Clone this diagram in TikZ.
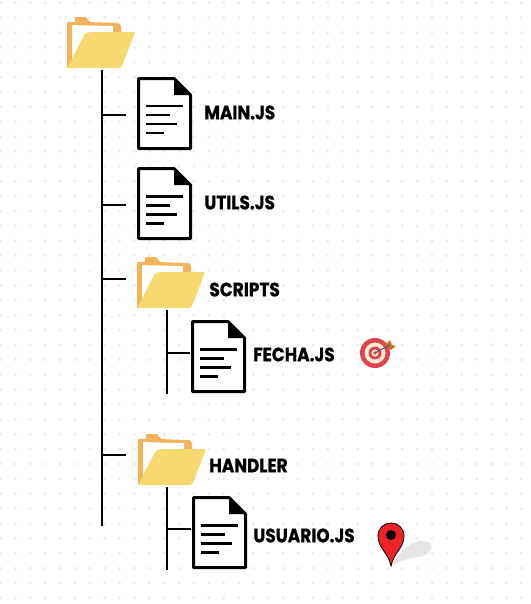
\documentclass[tikz,border=0pt]{standalone}
\usepackage{fontspec}
\setmainfont{Poppins}[BoldFeatures={FakeStretch=0.87,FakeBold=0.7}]
\definecolor{backfold}{HTML}{F2B35A}
\definecolor{frontfold}{HTML}{F6D96F}
\definecolor{griddot}{HTML}{E9EAF0}
\definecolor{targetred}{HTML}{E2414F}
\definecolor{targetcream}{HTML}{F3EFD2}
\definecolor{arrowtail}{HTML}{C8702A}
\definecolor{arrowshaft}{HTML}{4A5F73}
\definecolor{pinred}{HTML}{EE2229}
\tikzset{
  doc/.pic = {
    \draw[line width=3pt, line join=round, fill=white] (1.5,1.5) -- (37,1.5) -- (53.5,18) -- (53.5,71.5) -- (1.5,71.5) -- cycle;
    \fill[black] (37,1) -- (54,18) -- (37,18) -- cycle;
    \draw[line width=2.8pt] (9,29) -- (46,29);
    \draw[line width=2.8pt] (9,38) -- (33,38);
    \draw[line width=2.8pt] (9,47) -- (40,47);
    \draw[line width=2.8pt] (9,56) -- (27,56);
  },
  folder/.pic = {
    \fill[backfold] (0,51) -- (0,7) [rounded corners=1pt] -- (0,5) -- (8,5) -- (8,0) -- (19,0) -- (23,5) -- (52,6) -- (54,9) -- (54,20) -- cycle;
    \fill[white] (5,8) -- (46,9) -- (46,16) -- (5,44) -- cycle;
    \fill[frontfold, rounded corners=2pt] (0,51) -- (18,16) -- (23,15) -- (68,15) -- (54,51) -- cycle;
  }
}
\begin{document}
\begin{tikzpicture}[x=1pt, y=-1pt, line width=1.8pt,
  docnode/.style = {minimum width=55pt, minimum height=73pt, inner sep=0pt},
  foldnode/.style = {minimum width=68pt, minimum height=51pt, inner sep=0pt},
  lbl/.style = {font=\bfseries\fontsize{19.5}{19.5}\selectfont, inner sep=0pt, anchor=west}]
\useasboundingbox (0,0) rectangle (530,604);
\fill[white] (0,0) rectangle (530,604);
% dotted paper
\foreach \i in {0,...,35}
  \foreach \j in {0,...,40}
    \fill[griddot] (0.5+14.88*\i,2.7+14.88*\j) circle (1.5pt);

\node[foldnode] (root) at (102,43.5) {};
\node[docnode] (main) at (165.5,114.5) {};
\node[docnode] (utils) at (165.5,204.5) {};
\node[foldnode] (scripts) at (172,283.5) {};
\node[docnode] (fecha) at (219.5,357.5) {};
\node[foldnode] (handler) at (173,460.5) {};
\node[docnode] (usuario) at (220.5,533.5) {};

\pic at (root.north west) {folder};
\pic at (main.north west) {doc};
\pic at (utils.north west) {doc};
\pic at (scripts.north west) {folder};
\pic at (fecha.north west) {doc};
\pic at (handler.north west) {folder};
\pic at (usuario.north west) {doc};

\node[lbl] (mainlbl) at (203.5,112.5) {MAIN.JS};
\node[lbl] (utilslbl) at (203.5,202.5) {UTILS.JS};
\node[lbl] (scriptslbl) at (208.5,289.5) {SCRIPTS};
\node[lbl] (fechalbl) at (252.5,354.5) {FECHA.JS};
\node[lbl] (handlerlbl) at (208.5,465.5) {HANDLER};
\node[lbl] (usuariolbl) at (252.5,535.5) {USUARIO.JS};

% trunk and branches
\coordinate (trunkend) at (102,526);
\coordinate (subend1) at (167,394);
\coordinate (subend2) at (167,570);
\coordinate (bmain) at (126,115);
\coordinate (butils) at (126,205);
\coordinate (bscripts) at (126,279);
\coordinate (bhandler) at (126,455);
\coordinate (bfecha) at (190,353);
\coordinate (busuario) at (191,529);
\draw (root.south) -- (trunkend);
\draw (bmain) -- (bmain -| root.south);
\draw (butils) -- (butils -| root.south);
\draw (bscripts) -- (bscripts -| root.south);
\draw (bhandler) -- (bhandler -| root.south);
\draw (subend1 |- scripts.south) -- (subend1);
\draw (bfecha) -- (bfecha -| subend1);
\draw (subend2 |- handler.south) -- (subend2);
\draw (busuario) -- (busuario -| subend2);

% target
\fill[targetred] (375,353) circle (15);
\fill[targetcream] (375,353) circle (10.5);
\fill[targetred] (375,353) circle (6.5);
\fill[targetcream] (375,353) circle (3.5);
\fill[targetred] (375,353) circle (1.8);
\fill[arrowtail] (385,345) -- (390,340) -- (392,345) -- (396,346) -- (391,350) -- cycle;
\draw[line width=1pt, arrowshaft] (375,353) -- (390,345);

% pin
\fill[black!10] (392,566) .. controls (402,545) and (418,538) .. (428,542) .. controls (437,547) and (428,556) .. (418,557) .. controls (408,558) and (398,562) .. (392,566) -- cycle;
\draw[line width=0.8pt, fill=pinred] (391,566) .. controls (388,552) and (378,548) .. (378,536) .. controls (378,528) and (384,523) .. (391,523) .. controls (398,523) and (404,528) .. (404,536) .. controls (404,548) and (394,552) .. (391,566) -- cycle;
\fill[black] (391,535) circle (5);
\end{tikzpicture}
\end{document}
